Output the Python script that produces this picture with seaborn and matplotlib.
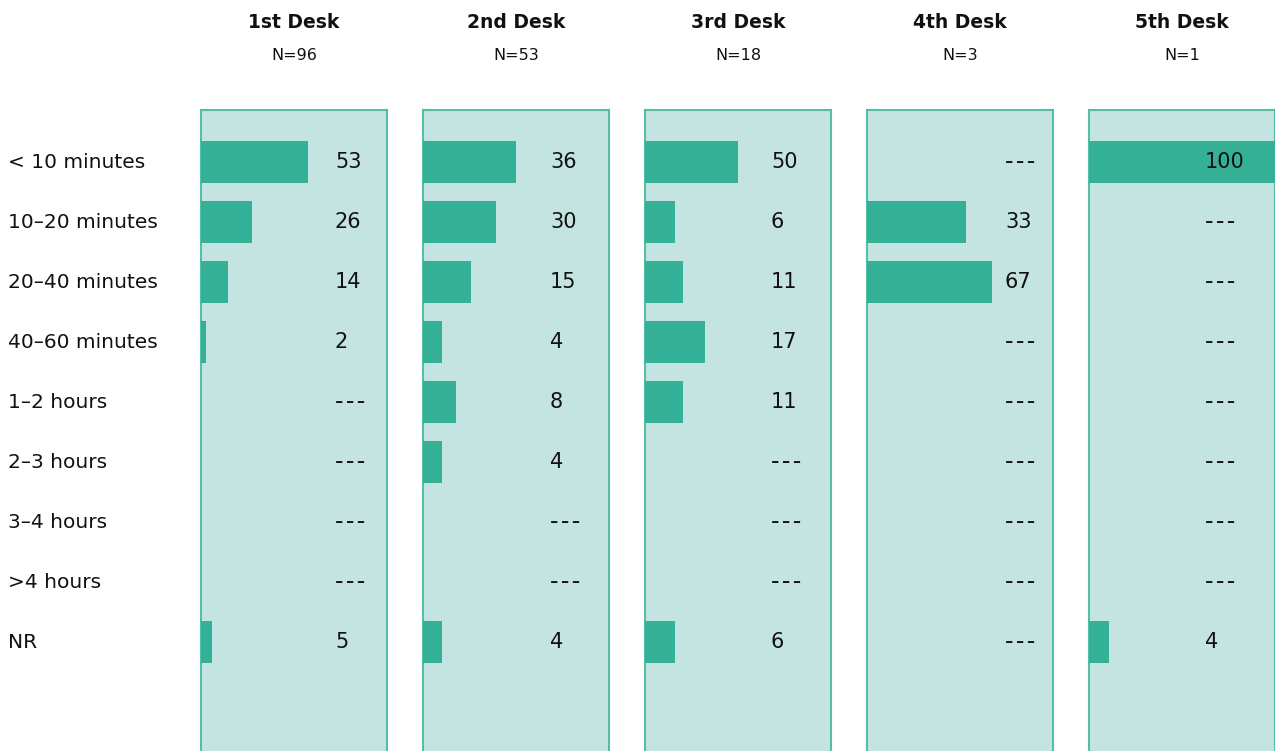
import matplotlib
matplotlib.use("Agg")
import matplotlib.pyplot as plt
import matplotlib.transforms as mtransforms
import seaborn as sns

# row categories (top to bottom)
categories = [
    "< 10 minutes", "10\u201320 minutes", "20\u201340 minutes", "40\u201360 minutes",
    "1\u20132 hours", "2\u20133 hours", "3\u20134 hours", ">4 hours", "NR",
]

desks = ["1st Desk", "2nd Desk", "3rd Desk", "4th Desk", "5th Desk"]
sample_sizes = ["N=96", "N=53", "N=18", "N=3", "N=1"]

# bar lengths (100 = full panel width)
bars_desk1 = [57.5, 27.4, 14.5, 2.7, 0, 0, 0, 0, 5.9]
bars_desk2 = [50.0, 39.2, 25.8, 10.2, 17.7, 10.2, 0, 0, 10.2]
bars_desk3 = [50.0, 16.1, 20.4, 32.3, 20.4, 0, 0, 0, 16.1]
bars_desk4 = [0, 53.2, 67.2, 0, 0, 0, 0, 0, 0]
bars_desk5 = [100.0, 0, 0, 0, 0, 0, 0, 0, 10.8]

# printed value labels
labels_desk1 = ["53", "26", "14", "2", "---", "---", "---", "---", "5"]
labels_desk2 = ["36", "30", "15", "4", "8", "4", "---", "---", "4"]
labels_desk3 = ["50", "6", "11", "17", "11", "---", "---", "---", "6"]
labels_desk4 = ["---", "33", "67", "---", "---", "---", "---", "---", "---"]
labels_desk5 = ["100", "---", "---", "---", "---", "---", "---", "---", "4"]

all_bars = [bars_desk1, bars_desk2, bars_desk3, bars_desk4, bars_desk5]
all_labels = [labels_desk1, labels_desk2, labels_desk3, labels_desk4, labels_desk5]

# layout (pixels)
W, H = 1275, 751
PANEL_LEFT = [201, 423, 645, 867, 1089]
PANEL_W = 186
PANEL_TOP = 110
LABEL_X = [134, 127, 126, 138, 116]  # value label offset inside each panel

BG = "#c4e4e1"
BAR = "#33b096"
EDGE = "#52c0a8"

sns.set_style("white")
plt.rcParams["font.family"] = ["DejaVu Sans"]

fig = plt.figure(figsize=(W / 100, H / 100), dpi=100)

row_top = -(162 - PANEL_TOP) / 60
row_bottom = (H - 162) / 60

axes = []
for k in range(5):
    ax = fig.add_axes([PANEL_LEFT[k] / W, 0, PANEL_W / W, (H - PANEL_TOP) / H])
    sns.barplot(x=all_bars[k], y=list(range(len(categories))), orient="h",
                color=BAR, width=0.7, saturation=1, linewidth=0,
                edgecolor="none", ax=ax)
    ax.set_facecolor(BG)
    ax.set_xlim(0, 100)
    ax.set_ylim(row_bottom, row_top)
    ax.set_xticks([])
    ax.set_yticks([])
    ax.set_xlabel("")
    ax.set_ylabel("")
    for side in ["left", "right", "top"]:
        ax.spines[side].set_visible(True)
        ax.spines[side].set_color(EDGE)
        ax.spines[side].set_linewidth(1.5)
        ax.spines[side].set_zorder(0.5)
    ax.spines["bottom"].set_visible(False)

    for i, lab in enumerate(all_labels[k]):
        if lab == "---":
            # spread the hyphens a little, as in the original
            ax.text(LABEL_X[k] / PANEL_W * 100, i, "\u200a".join(lab),
                    ha="left", va="center", fontsize=17, color="#111111")
        else:
            ax.text(LABEL_X[k] / PANEL_W * 100, i, lab, ha="left",
                    va="center", fontsize=15, color="#111111")

    cx = (PANEL_LEFT[k] + PANEL_W / 2) / W
    fig.text(cx, 1 - 22 / H, desks[k], ha="center", va="center",
             fontsize=13.5, fontweight="bold", color="#111111")
    fig.text(cx, 1 - 55 / H, sample_sizes[k], ha="center", va="center",
             fontsize=11.5, color="#111111")
    axes.append(ax)

trans = mtransforms.blended_transform_factory(fig.transFigure, axes[0].transData)
for i, cat in enumerate(categories):
    axes[0].text(8 / W, i, cat, transform=trans, ha="left", va="center",
                 fontsize=14.5, color="#111111", clip_on=False)

fig.savefig("out.png", dpi=100)
